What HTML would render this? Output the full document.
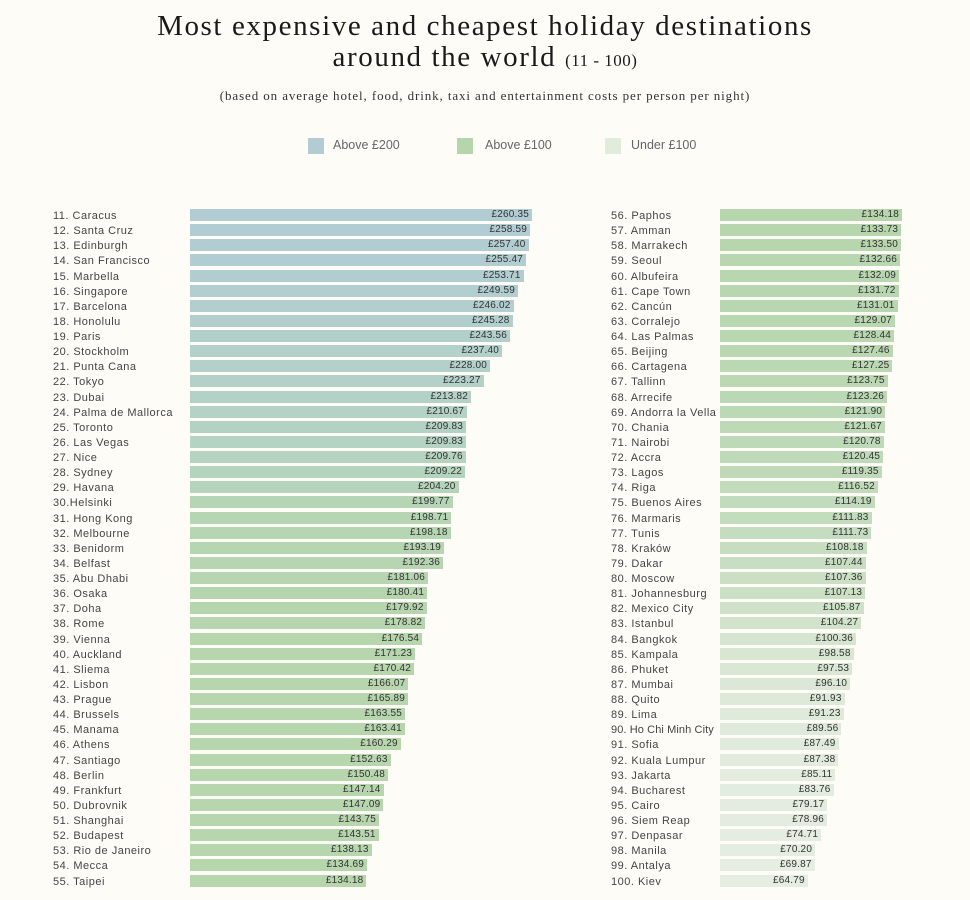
<!DOCTYPE html>
<html><head><meta charset="utf-8"><style>
body{margin:0;width:970px;height:900px;background:#fdfcf7;position:relative;overflow:hidden;font-family:"Liberation Sans",sans-serif}
.t{position:absolute;left:0;width:970px;text-align:center;font-family:"Liberation Serif",serif;color:#1a1a1a}
.col{position:absolute;top:209px}
.r{height:15.136px;position:relative}
.n{position:absolute;top:0px;font-size:11px;letter-spacing:.5px;color:#444;white-space:nowrap;line-height:15px}
.r b{position:absolute;top:0;height:12px;font-weight:normal;font-size:10px;color:#333;text-align:right;line-height:12px;box-sizing:border-box;padding-right:3px;letter-spacing:.2px}
#L .n{left:53px}#L b{left:190px}
#R .n{left:611px}#R b{left:720px}
.lg{position:absolute;top:138px;width:16px;height:16px}
.lt{position:absolute;top:138px;font-size:12.5px;color:#666}
</style></head><body>
<div class="t" style="top:11px;font-size:29px;line-height:31px;letter-spacing:1.6px">Most expensive and cheapest holiday destinations<br>around the world <span style="font-size:17px;letter-spacing:.5px">(11 - 100)</span></div>
<div class="t" style="top:88px;font-size:13px;letter-spacing:.9px;color:#333">(based on average hotel, food, drink, taxi and entertainment costs per person per night)</div>
<div class="lg" style="left:308px;background:#b1ccd2"></div><div class="lt" style="left:333px">Above £200</div>
<div class="lg" style="left:457px;background:#b6d5ac"></div><div class="lt" style="left:485px">Above £100</div>
<div class="lg" style="left:605px;background:#e2ecdc"></div><div class="lt" style="left:631px">Under £100</div>

<div class="col" id="L">
<div class="r"><span class="n">11. Caracus</span><b style="width:342px;background:#b1cdd3">£260.35</b></div>
<div class="r"><span class="n">12. Santa Cruz</span><b style="width:340px;background:#b1cdd3">£258.59</b></div>
<div class="r"><span class="n">13. Edinburgh</span><b style="width:338.5px;background:#b1cdd2">£257.40</b></div>
<div class="r"><span class="n">14. San Francisco</span><b style="width:336px;background:#b1cdd1">£255.47</b></div>
<div class="r"><span class="n">15. Marbella</span><b style="width:333.6px;background:#b1cdd0">£253.71</b></div>
<div class="r"><span class="n">16. Singapore</span><b style="width:328px;background:#b2cecf">£249.59</b></div>
<div class="r"><span class="n">17. Barcelona</span><b style="width:323.5px;background:#b2cece">£246.02</b></div>
<div class="r"><span class="n">18. Honolulu</span><b style="width:322.5px;background:#b2cfcd">£245.28</b></div>
<div class="r"><span class="n">19. Paris</span><b style="width:320px;background:#b2cfcc">£243.56</b></div>
<div class="r"><span class="n">20. Stockholm</span><b style="width:312px;background:#b3d0cb">£237.40</b></div>
<div class="r"><span class="n">21. Punta Cana</span><b style="width:300px;background:#b3d0ca">£228.00</b></div>
<div class="r"><span class="n">22. Tokyo</span><b style="width:293.6px;background:#b3d1c9">£223.27</b></div>
<div class="r"><span class="n">23. Dubai</span><b style="width:281px;background:#b3d1c7">£213.82</b></div>
<div class="r"><span class="n">24. Palma de Mallorca</span><b style="width:277px;background:#b4d2c6">£210.67</b></div>
<div class="r"><span class="n">25. Toronto</span><b style="width:276px;background:#b4d2c4">£209.83</b></div>
<div class="r"><span class="n">26. Las Vegas</span><b style="width:276px;background:#b4d3c2">£209.83</b></div>
<div class="r"><span class="n">27. Nice</span><b style="width:275.8px;background:#b5d3c0">£209.76</b></div>
<div class="r"><span class="n">28. Sydney</span><b style="width:275px;background:#b5d4be">£209.22</b></div>
<div class="r"><span class="n">29. Havana</span><b style="width:268.5px;background:#b5d4bb">£204.20</b></div>
<div class="r"><span class="n">30.Helsinki</span><b style="width:262.7px;background:#b6d5b4">£199.77</b></div>
<div class="r"><span class="n">31. Hong Kong</span><b style="width:261.3px;background:#b6d5b3">£198.71</b></div>
<div class="r"><span class="n">32. Melbourne</span><b style="width:260.6px;background:#b6d5b2">£198.18</b></div>
<div class="r"><span class="n">33. Benidorm</span><b style="width:254px;background:#b6d5b1">£193.19</b></div>
<div class="r"><span class="n">34. Belfast</span><b style="width:253px;background:#b6d5b0">£192.36</b></div>
<div class="r"><span class="n">35. Abu Dhabi</span><b style="width:238px;background:#b6d5b0">£181.06</b></div>
<div class="r"><span class="n">36. Osaka</span><b style="width:237.2px;background:#b6d5af">£180.41</b></div>
<div class="r"><span class="n">37. Doha</span><b style="width:236.6px;background:#b6d5af">£179.92</b></div>
<div class="r"><span class="n">38. Rome</span><b style="width:235.2px;background:#b7d6af">£178.82</b></div>
<div class="r"><span class="n">39. Vienna</span><b style="width:232.2px;background:#b7d6ae">£176.54</b></div>
<div class="r"><span class="n">40. Auckland</span><b style="width:225.2px;background:#b7d6ae">£171.23</b></div>
<div class="r"><span class="n">41. Sliema</span><b style="width:224px;background:#b7d6ae">£170.42</b></div>
<div class="r"><span class="n">42. Lisbon</span><b style="width:218.4px;background:#b7d6ae">£166.07</b></div>
<div class="r"><span class="n">43. Prague</span><b style="width:218px;background:#b7d6ae">£165.89</b></div>
<div class="r"><span class="n">44. Brussels</span><b style="width:215px;background:#b7d6ae">£163.55</b></div>
<div class="r"><span class="n">45. Manama</span><b style="width:214.9px;background:#b7d6ae">£163.41</b></div>
<div class="r"><span class="n">46. Athens</span><b style="width:210.8px;background:#b7d6ae">£160.29</b></div>
<div class="r"><span class="n">47. Santiago</span><b style="width:200.7px;background:#b7d6ae">£152.63</b></div>
<div class="r"><span class="n">48. Berlin</span><b style="width:198px;background:#b7d6ae">£150.48</b></div>
<div class="r"><span class="n">49. Frankfurt</span><b style="width:193.5px;background:#b7d6ae">£147.14</b></div>
<div class="r"><span class="n">50. Dubrovnik</span><b style="width:193.4px;background:#b7d6ae">£147.09</b></div>
<div class="r"><span class="n">51. Shanghai</span><b style="width:189px;background:#b7d6ae">£143.75</b></div>
<div class="r"><span class="n">52. Budapest</span><b style="width:188.7px;background:#b7d6ae">£143.51</b></div>
<div class="r"><span class="n">53. Rio de Janeiro</span><b style="width:181.6px;background:#b7d6ae">£138.13</b></div>
<div class="r"><span class="n">54. Mecca</span><b style="width:177px;background:#b7d6ae">£134.69</b></div>
<div class="r"><span class="n">55. Taipei</span><b style="width:176.4px;background:#b7d6ae">£134.18</b></div>
</div>

<div class="col" id="R">
<div class="r"><span class="n">56. Paphos</span><b style="width:182px;background:#b7d6ae">£134.18</b></div>
<div class="r"><span class="n">57. Amman</span><b style="width:181.2px;background:#b7d6ae">£133.73</b></div>
<div class="r"><span class="n">58. Marrakech</span><b style="width:181px;background:#b7d6ae">£133.50</b></div>
<div class="r"><span class="n">59. Seoul</span><b style="width:180px;background:#b8d6af">£132.66</b></div>
<div class="r"><span class="n">60. Albufeira</span><b style="width:179px;background:#b8d6af">£132.09</b></div>
<div class="r"><span class="n">61. Cape Town</span><b style="width:178.5px;background:#b8d6af">£131.72</b></div>
<div class="r"><span class="n">62. Cancún</span><b style="width:177.5px;background:#b8d7b0">£131.01</b></div>
<div class="r"><span class="n">63. Corralejo</span><b style="width:175px;background:#b9d7b0">£129.07</b></div>
<div class="r"><span class="n">64. Las Palmas</span><b style="width:174px;background:#b9d7b1">£128.44</b></div>
<div class="r"><span class="n">65. Beijing</span><b style="width:172.7px;background:#bad7b2">£127.46</b></div>
<div class="r"><span class="n">66. Cartagena</span><b style="width:172.4px;background:#bad8b2">£127.25</b></div>
<div class="r"><span class="n">67. Tallinn</span><b style="width:167.7px;background:#bbd8b3">£123.75</b></div>
<div class="r"><span class="n">68. Arrecife</span><b style="width:167px;background:#bbd8b4">£123.26</b></div>
<div class="r"><span class="n">69. Andorra la Vella</span><b style="width:165.2px;background:#bcd9b5">£121.90</b></div>
<div class="r"><span class="n">70. Chania</span><b style="width:164.9px;background:#bdd9b6">£121.67</b></div>
<div class="r"><span class="n">71. Nairobi</span><b style="width:163.7px;background:#bed9b7">£120.78</b></div>
<div class="r"><span class="n">72. Accra</span><b style="width:163.2px;background:#bfdab8">£120.45</b></div>
<div class="r"><span class="n">73. Lagos</span><b style="width:161.7px;background:#c0dab9">£119.35</b></div>
<div class="r"><span class="n">74. Riga</span><b style="width:157.9px;background:#c1dbbb">£116.52</b></div>
<div class="r"><span class="n">75. Buenos Aires</span><b style="width:154.7px;background:#c2dbbc">£114.19</b></div>
<div class="r"><span class="n">76. Marmaris</span><b style="width:151.5px;background:#c3dcbd">£111.83</b></div>
<div class="r"><span class="n">77. Tunis</span><b style="width:151.4px;background:#c4dcbf">£111.73</b></div>
<div class="r"><span class="n">78. Kraków</span><b style="width:146.6px;background:#c6ddc0">£108.18</b></div>
<div class="r"><span class="n">79. Dakar</span><b style="width:145.6px;background:#c8dec2">£107.44</b></div>
<div class="r"><span class="n">80. Moscow</span><b style="width:145.5px;background:#cadfc4">£107.36</b></div>
<div class="r"><span class="n">81. Johannesburg</span><b style="width:145.2px;background:#cce0c6">£107.13</b></div>
<div class="r"><span class="n">82. Mexico City</span><b style="width:143.5px;background:#cfe2c9">£105.87</b></div>
<div class="r"><span class="n">83. Istanbul</span><b style="width:141.3px;background:#d2e3cc">£104.27</b></div>
<div class="r"><span class="n">84. Bangkok</span><b style="width:136px;background:#d5e5cf">£100.36</b></div>
<div class="r"><span class="n">85. Kampala</span><b style="width:133.6px;background:#d8e6d2">£98.58</b></div>
<div class="r"><span class="n">86. Phuket</span><b style="width:132.2px;background:#dae7d5">£97.53</b></div>
<div class="r"><span class="n">87. Mumbai</span><b style="width:130.2px;background:#dce8d7">£96.10</b></div>
<div class="r"><span class="n">88. Quito</span><b style="width:124.6px;background:#dee9d9">£91.93</b></div>
<div class="r"><span class="n">89. Lima</span><b style="width:123.6px;background:#dfeadb">£91.23</b></div>
<div class="r"><span class="n" style="letter-spacing:.1px">90. Ho Chi Minh City</span><b style="width:121.4px;background:#e0eadc">£89.56</b></div>
<div class="r"><span class="n">91. Sofia</span><b style="width:118.5px;background:#e1ebdd">£87.49</b></div>
<div class="r"><span class="n">92. Kuala Lumpur</span><b style="width:118.4px;background:#e2ebde">£87.38</b></div>
<div class="r"><span class="n">93. Jakarta</span><b style="width:115.3px;background:#e3ecdf">£85.11</b></div>
<div class="r"><span class="n">94. Bucharest</span><b style="width:113.5px;background:#e3ece0">£83.76</b></div>
<div class="r"><span class="n">95. Cairo</span><b style="width:107.3px;background:#e4ece1">£79.17</b></div>
<div class="r"><span class="n">96. Siem Reap</span><b style="width:107px;background:#e4ece1">£78.96</b></div>
<div class="r"><span class="n">97. Denpasar</span><b style="width:101.2px;background:#e5ece2">£74.71</b></div>
<div class="r"><span class="n">98. Manila</span><b style="width:95.1px;background:#e5ede2">£70.20</b></div>
<div class="r"><span class="n">99. Antalya</span><b style="width:94.7px;background:#e6ede3">£69.87</b></div>
<div class="r"><span class="n">100. Kiev</span><b style="width:87.8px;background:#e6ede3">£64.79</b></div>
</div>
</body></html>
